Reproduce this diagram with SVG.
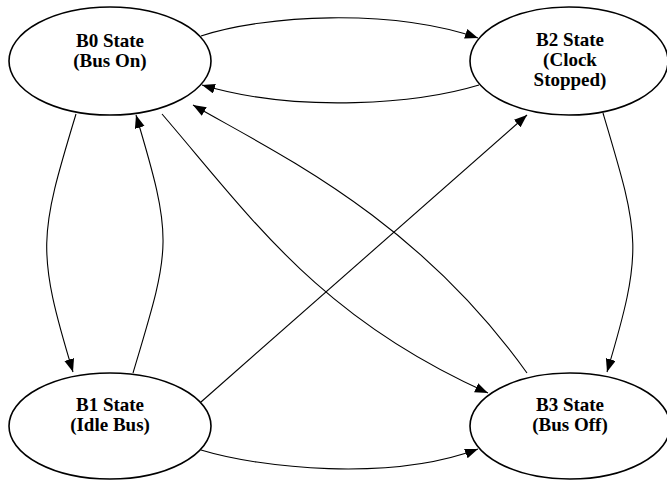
<svg xmlns="http://www.w3.org/2000/svg" width="667" height="480" viewBox="0 0 667 480">
<defs>
<marker id="arr" markerUnits="userSpaceOnUse" markerWidth="14" markerHeight="11" refX="13" refY="5" orient="auto">
<path d="M0,0 L13,5 L0,10 z" fill="#000"/>
</marker>
<style>
.node ellipse{fill:#fff;stroke:#000;stroke-width:1.6}
.node text{font-family:"Liberation Serif",serif;font-weight:bold;font-size:19px;text-anchor:middle;fill:#000}
#edges path{fill:none;stroke:#000;stroke-width:1.1;marker-end:url(#arr)}
</style>
</defs>
<rect width="667" height="480" fill="#fff"/>
<g id="edges">
<path d="M201,36 C265,15 390,8 478,38"/>
<path d="M479,85 C420,103 300,114 202,85"/>
<path d="M76,114 C39,236 36,250 73,372"/>
<path d="M133,373 C171,246 174,242 136,115"/>
<path d="M162,114 C253,220 320,318 488,393"/>
<path d="M527,373 C417,219 280,155 193,105"/>
<path d="M201,402 L527,115"/>
<path d="M603,113 C640,237 644,248 607,372"/>
<path d="M201,450 C260,468 390,482 478,449"/>
</g>
<g id="B0" class="node">
<ellipse cx="110" cy="61" rx="101" ry="54"/>
<text x="110" y="47">B0 State</text>
<text x="110" y="67">(Bus On)</text>
</g>
<g id="B2" class="node">
<ellipse cx="569" cy="61" rx="99" ry="54"/>
<text x="570" y="46">B2 State</text>
<text x="570" y="66">(Clock</text>
<text x="570" y="86">Stopped)</text>
</g>
<g id="B1" class="node">
<ellipse cx="110" cy="426" rx="101" ry="53"/>
<text x="110" y="411">B1 State</text>
<text x="110" y="431">(Idle Bus)</text>
</g>
<g id="B3" class="node">
<ellipse cx="570" cy="426" rx="100" ry="53"/>
<text x="570" y="411">B3 State</text>
<text x="570" y="431">(Bus Off)</text>
</g>
</svg>
